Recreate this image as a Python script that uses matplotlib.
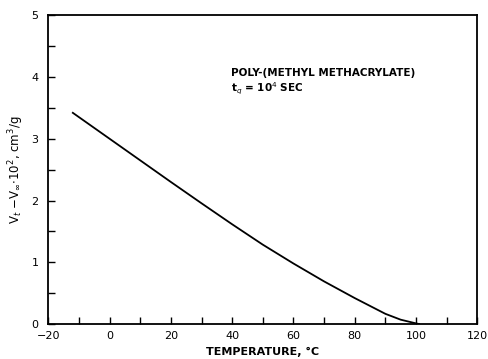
import numpy as np
from matplotlib import pyplot as plt
from matplotlib.ticker import MultipleLocator

# curve
temperature = [-12, 0, 10, 20, 30, 40, 50, 60, 70, 80, 90, 95, 100, 101]
volume_diff = [3.42, 3.00, 2.65, 2.30, 1.955, 1.615, 1.285, 0.98, 0.69, 0.42, 0.165, 0.07, 0.01, 0.0]

plt.rcParams['font.family'] = 'DejaVu Sans'

fig = plt.figure(figsize=(4.88, 3.59), dpi=100)
ax = fig.add_axes([0.099, 0.0975, 0.879, 0.86])

ax.plot(temperature, volume_diff, color='black', linewidth=1.3)

ax.set_xlim(-20, 120)
ax.set_ylim(0, 5)
ax.xaxis.set_major_locator(MultipleLocator(20))
ax.xaxis.set_minor_locator(MultipleLocator(10))
ax.yaxis.set_major_locator(MultipleLocator(1))
ax.yaxis.set_minor_locator(MultipleLocator(0.5))
ax.tick_params(which='both', direction='in', length=5, width=1, labelsize=8)
ax.tick_params(axis='y', which='both', pad=7)
ax.tick_params(axis='x', which='both', pad=5)
for spine in ax.spines.values():
    spine.set_linewidth(1.3)

ax.set_xlabel('TEMPERATURE, \u00b0C', fontsize=8, fontweight='bold')
ax.set_ylabel(r'V$_t$ $-$V$_\infty$$\cdot$10$^2$, cm$^3$/g', fontsize=8.5, labelpad=4)

# annotation in the plot
ax.text(39.5, 4.06, 'POLY-(METHYL METHACRYLATE)', fontsize=7.5, fontweight='bold', va='center')
ax.text(39.5, 3.80, r't$_q$ = 10$^4$ SEC', fontsize=7.5, fontweight='bold', va='center')

fig.savefig('out.png', dpi=100)
